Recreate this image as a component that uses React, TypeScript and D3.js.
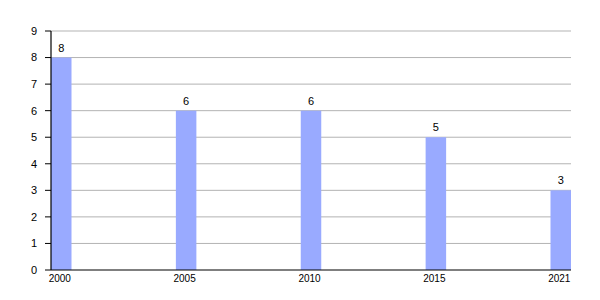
import React from "react";
import * as d3 from "d3";

const categories = ["2000", "2005", "2010", "2015", "2021"];
const values = [8, 6, 6, 5, 3];
const yTicks = [0, 1, 2, 3, 4, 5, 6, 7, 8, 9];

export default function App() {
  const width = 600;
  const height = 300;
  const left = 51;
  const right = 571;
  const top = 31;
  const bottom = 270;
  const barW = 20.5;

  const x = d3.scalePoint<string>().domain(categories).range([left + barW / 2, right - barW / 2]);
  const y = d3.scaleLinear().domain([0, 9]).range([bottom, top]);
  const font = "Liberation Sans, Arial, sans-serif";

  return (
    <svg width={width} height={height} style={{ position: "absolute", left: 0, top: 0, background: "#fff" }}>
      {yTicks.map((t) => (
        <g key={t}>
          {t > 0 && (
            <line x1={left} x2={right} y1={y(t)} y2={y(t)} stroke="#b3b3b3" strokeWidth={1} />
          )}
          <line x1={45} x2={left} y1={y(t)} y2={y(t)} stroke="#000" strokeWidth={1} />
          <text x={37} y={y(t)} dy="0.35em" textAnchor="end" fontFamily={font} fontSize={11} fill="#000">
            {t}
          </text>
        </g>
      ))}
      {categories.map((c, i) => (
        <g key={c}>
          <rect x={x(c)! - barW / 2} y={y(values[i])} width={barW} height={bottom - y(values[i])} fill="#99aaff" />
          <text x={x(c)!} y={y(values[i]) - 6} textAnchor="middle" fontFamily={font} fontSize={11} fill="#000">
            {values[i]}
          </text>
          <text x={x(c)! - 1.5} y={282} textAnchor="middle" fontFamily={font} fontSize={10} fill="#000">
            {c}
          </text>
        </g>
      ))}
      <line x1={left} x2={left} y1={top} y2={bottom} stroke="#000" strokeWidth={1.2} />
      <line x1={left} x2={right} y1={bottom} y2={bottom} stroke="#000" strokeWidth={1.2} />
    </svg>
  );
}
